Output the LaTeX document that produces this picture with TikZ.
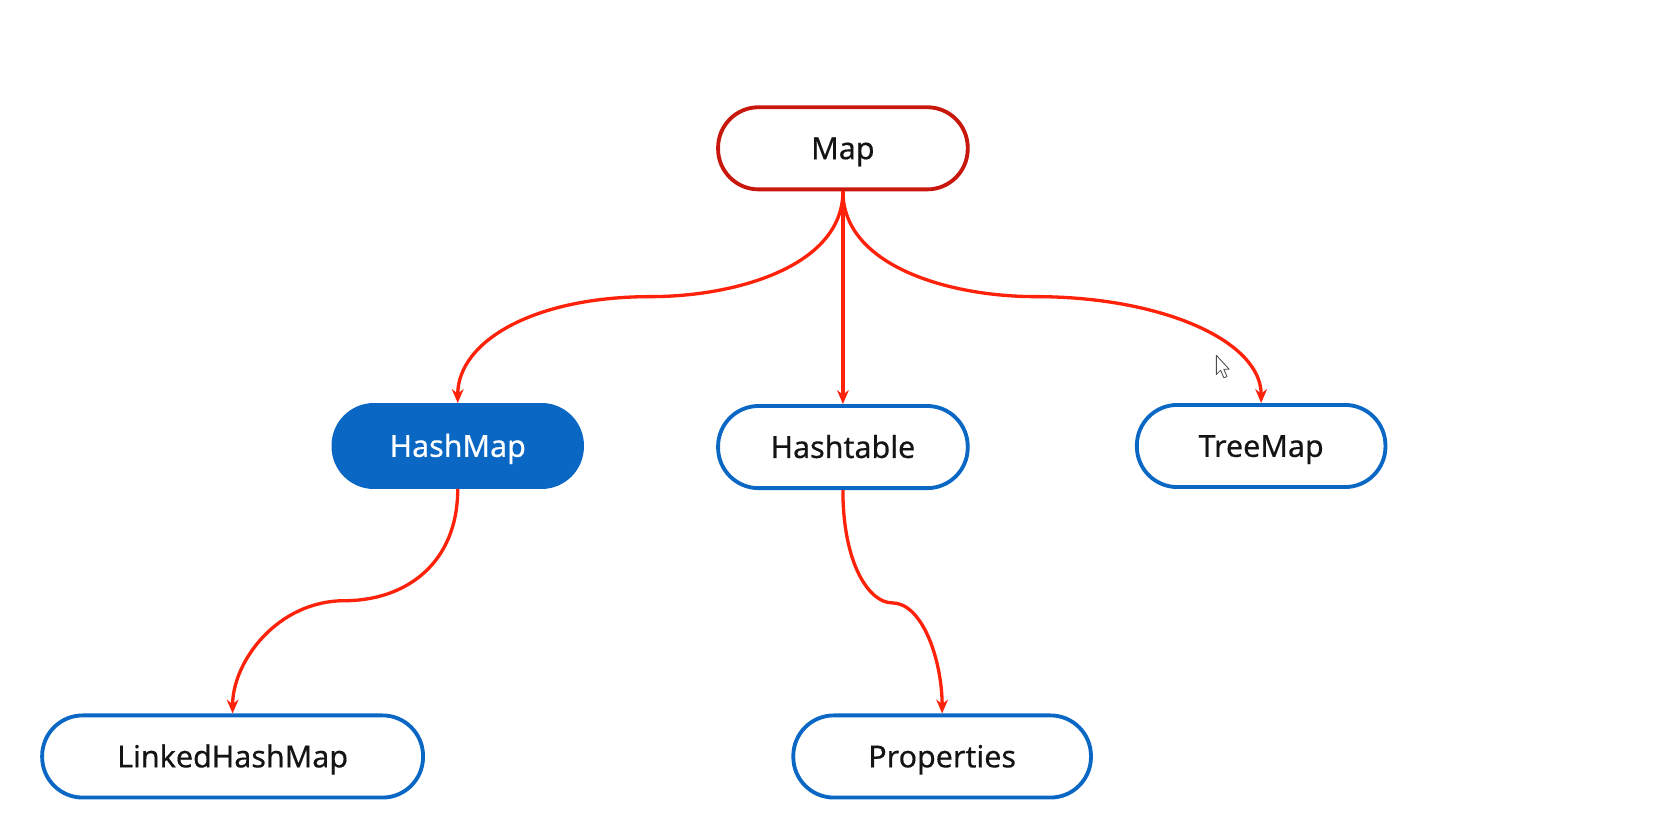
\documentclass[tikz,border=0pt]{standalone}
\usepackage{fontspec}
\setmainfont[FakeBold=0.4]{Noto Sans}
\usetikzlibrary{arrows.meta}
\definecolor{mapred}{HTML}{C8180E}
\definecolor{edgered}{HTML}{FF220A}
\definecolor{boxblue}{HTML}{0A68C4}
\tikzset{
  cls/.style={draw=boxblue, line width=3.6pt, fill=white, rounded corners=38pt,
    minimum height=77pt, inner sep=0pt, text height=20.4pt, text depth=0pt,
    font=\fontsize{28.5}{31}\selectfont\bfseries, text=black!92},
  rootbox/.style={cls, draw=mapred},
  filledbox/.style={cls, fill=boxblue, text=white},
  link/.style={draw=edgered, line width=3.1pt, -{Stealth[length=13pt,width=11pt]}}
}
\begin{document}
\begin{tikzpicture}[x=1pt,y=-1pt]
\useasboundingbox (0,0) rectangle (1568,771.3);
\node[rootbox, minimum width=234pt] (map) at (790,139) {Map};
\node[filledbox, minimum width=233pt] (hashmap) at (429,418) {HashMap};
\node[cls, minimum width=234pt] (hashtable) at (790,419) {Hashtable};
\node[cls, minimum width=233pt] (treemap) at (1182,418) {TreeMap};
\node[cls, minimum width=357pt] (linked) at (218,709) {LinkedHashMap};
\node[cls, minimum width=279pt] (props) at (883,709) {Properties};

\draw[link] (map.south) .. controls ++(0,70) and (690,278) .. (610,278)
  .. controls (500,278) and (429,320) .. (hashmap.north);
\draw[link] (map.south) -- (hashtable.north);
\draw[link] (map.south) .. controls ++(0,70) and (890,278) .. (970,278)
  .. controls (1090,278) and (1182,320) .. (treemap.north);
\draw[link] (hashmap.south) .. controls ++(0,70) and (380,563) .. (323,563)
  .. controls (260,563) and (218,620) .. (linked.north);
\draw[link] (hashtable.south) .. controls ++(0,70) and (815,565) .. (836,565)
  .. controls (865,565) and (883,620) .. (props.north);

% mouse pointer
\draw[black!70, fill=white, line width=0.8pt, line join=round]
  (1140,333) -- (1140,351) -- (1144,347) -- (1147,354) -- (1150,353) -- (1147,346) -- (1152,346) -- cycle;
\end{tikzpicture}
\end{document}
